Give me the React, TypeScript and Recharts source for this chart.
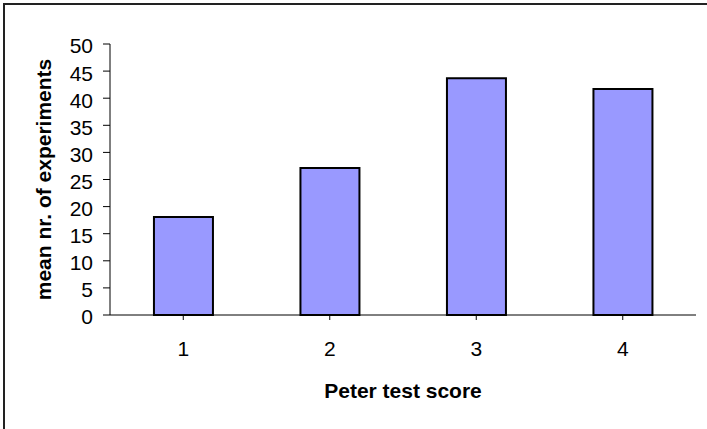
import React from 'react';
import { BarChart, Bar, XAxis, YAxis, Label } from 'recharts';

const scores = ['1', '2', '3', '4'];
const meanExperiments = [18.1, 27.1, 43.7, 41.7];
const yTicks = [0, 5, 10, 15, 20, 25, 30, 35, 40, 45, 50];

const data = scores.map((score, i) => ({ score, value: meanExperiments[i] }));

const FONT = "Arial, 'Liberation Sans', sans-serif";

const YTick = ({ x, y, payload }: any) => (
  <text x={x} y={y + 2} dy="0.355em" textAnchor="end" fontFamily={FONT} fontSize={21} fill="#000">
    {payload.value}
  </text>
);

const App: React.FC = () => {
  return (
    <div style={{ position: 'fixed', left: 0, top: 0, width: 707, height: 429, background: '#fff' }}>
      <BarChart
        width={707}
        height={429}
        data={data}
        margin={{ top: 44, right: 11, left: 0, bottom: 0 }}
        barCategoryGap="30%"
        style={{ fontFamily: FONT }}
      >
        {/* outer chart frame: only left and top edges show in the original */}
        <path d="M4,429 L4,4 L707,4" fill="none" stroke="#222" strokeWidth={2} />
        <XAxis
          dataKey="score"
          height={114}
          axisLine={{ stroke: '#000', strokeWidth: 1 }}
          tickLine={{ stroke: '#000' }}
          tickSize={5}
          tickMargin={21}
          tick={{ fill: '#000', fontSize: 21, fontFamily: FONT }}
        >
          <Label
            content={({ viewBox }: any) => (
              <text
                x={viewBox.x + viewBox.width / 2}
                y={398}
                textAnchor="middle"
                fontFamily={FONT}
                fontSize={21}
                fontWeight="bold"
                fill="#000"
              >
                Peter test score
              </text>
            )}
          />
        </XAxis>
        <XAxis
          xAxisId="top"
          dataKey="score"
          orientation="top"
          height={0}
          tick={false}
          tickLine={false}
          axisLine={{ stroke: '#808080', strokeWidth: 2 }}
        />
        <YAxis
          domain={[0, 50]}
          ticks={yTicks}
          width={110}
          interval={0}
          axisLine={{ stroke: '#000', strokeWidth: 1 }}
          tickLine={{ stroke: '#000' }}
          tickSize={7}
          tickMargin={10}
          tick={<YTick />}
        >
          <Label
            content={({ viewBox }: any) => {
              const cy = viewBox.y + viewBox.height / 2;
              return (
                <text
                  x={51}
                  y={cy}
                  transform={`rotate(-90, 51, ${cy})`}
                  textAnchor="middle"
                  fontFamily={FONT}
                  fontSize={21}
                  fontWeight="bold"
                  fill="#000"
                >
                  mean nr. of experiments
                </text>
              );
            }}
          />
        </YAxis>
        <YAxis
          yAxisId="right"
          orientation="right"
          domain={[0, 50]}
          width={0}
          tick={false}
          tickLine={false}
          axisLine={{ stroke: '#808080', strokeWidth: 2 }}
        />
        <Bar
          dataKey="value"
          fill="#9999FF"
          stroke="#000"
          strokeWidth={2}
          isAnimationActive={false}
        />
      </BarChart>
    </div>
  );
};

export default App;
